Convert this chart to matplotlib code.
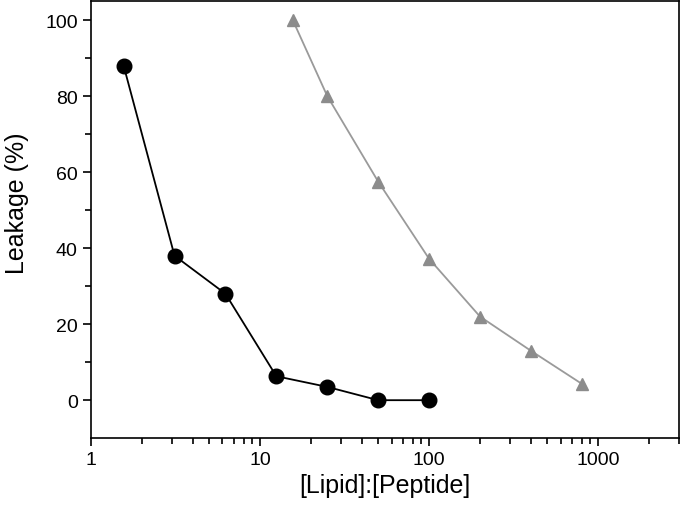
import matplotlib
matplotlib.use("Agg")
import matplotlib.pyplot as plt
from matplotlib.ticker import FixedLocator, LogLocator, NullFormatter

plt.rcParams['font.family'] = ['Liberation Sans', 'DejaVu Sans']

# peptide A (circles)
ratio_a = [1.5625, 3.125, 6.25, 12.5, 25, 50, 100]
leak_a = [88, 38, 28, 6.3, 3.5, 0, 0]

# peptide B (triangles)
ratio_b = [15.625, 25, 50, 100, 200, 400, 800]
leak_b = [100, 80, 57.5, 37.2, 22, 13, 4.3]

x_ticks = [1, 10, 100, 1000]
x_labels = ['1', '10', '100', '1000']
y_ticks = [0, 20, 40, 60, 80, 100]

fig = plt.figure(figsize=(6.83, 5.06), dpi=100)
ax = fig.add_axes([0.133, 0.132, 0.861, 0.864])

ax.plot(ratio_b, leak_b, color='#9a9a9a', lw=1.3, marker='^', ms=8,
        mfc='#8c8c8c', mec='#8c8c8c', zorder=2)
ax.plot(ratio_a, leak_a, color='black', lw=1.3, marker='o', ms=10.5,
        mfc='black', mec='black', zorder=3)

ax.set_xscale('log')
ax.set_xlim(1, 3000)
ax.set_ylim(-10, 105)
ax.xaxis.set_major_locator(FixedLocator(x_ticks))
ax.set_xticklabels(x_labels)
ax.xaxis.set_minor_locator(LogLocator(base=10, subs=range(2, 10)))
ax.xaxis.set_minor_formatter(NullFormatter())
ax.set_yticks(y_ticks)
ax.yaxis.set_minor_locator(FixedLocator([10, 30, 50, 70, 90]))

ax.tick_params(which='major', direction='out', length=6, width=1.2, labelsize=14)
ax.tick_params(which='minor', direction='out', length=4, width=1.2)
ax.tick_params(top=False, right=False, which='both')
for s in ax.spines.values():
    s.set_linewidth(1.2)

ax.set_xlabel('[Lipid]:[Peptide]', fontsize=18, labelpad=3)
ax.set_ylabel('Leakage (%)', fontsize=18)
ax.yaxis.set_label_coords(-0.105, 0.54)

fig.savefig('out.png', dpi=100)
